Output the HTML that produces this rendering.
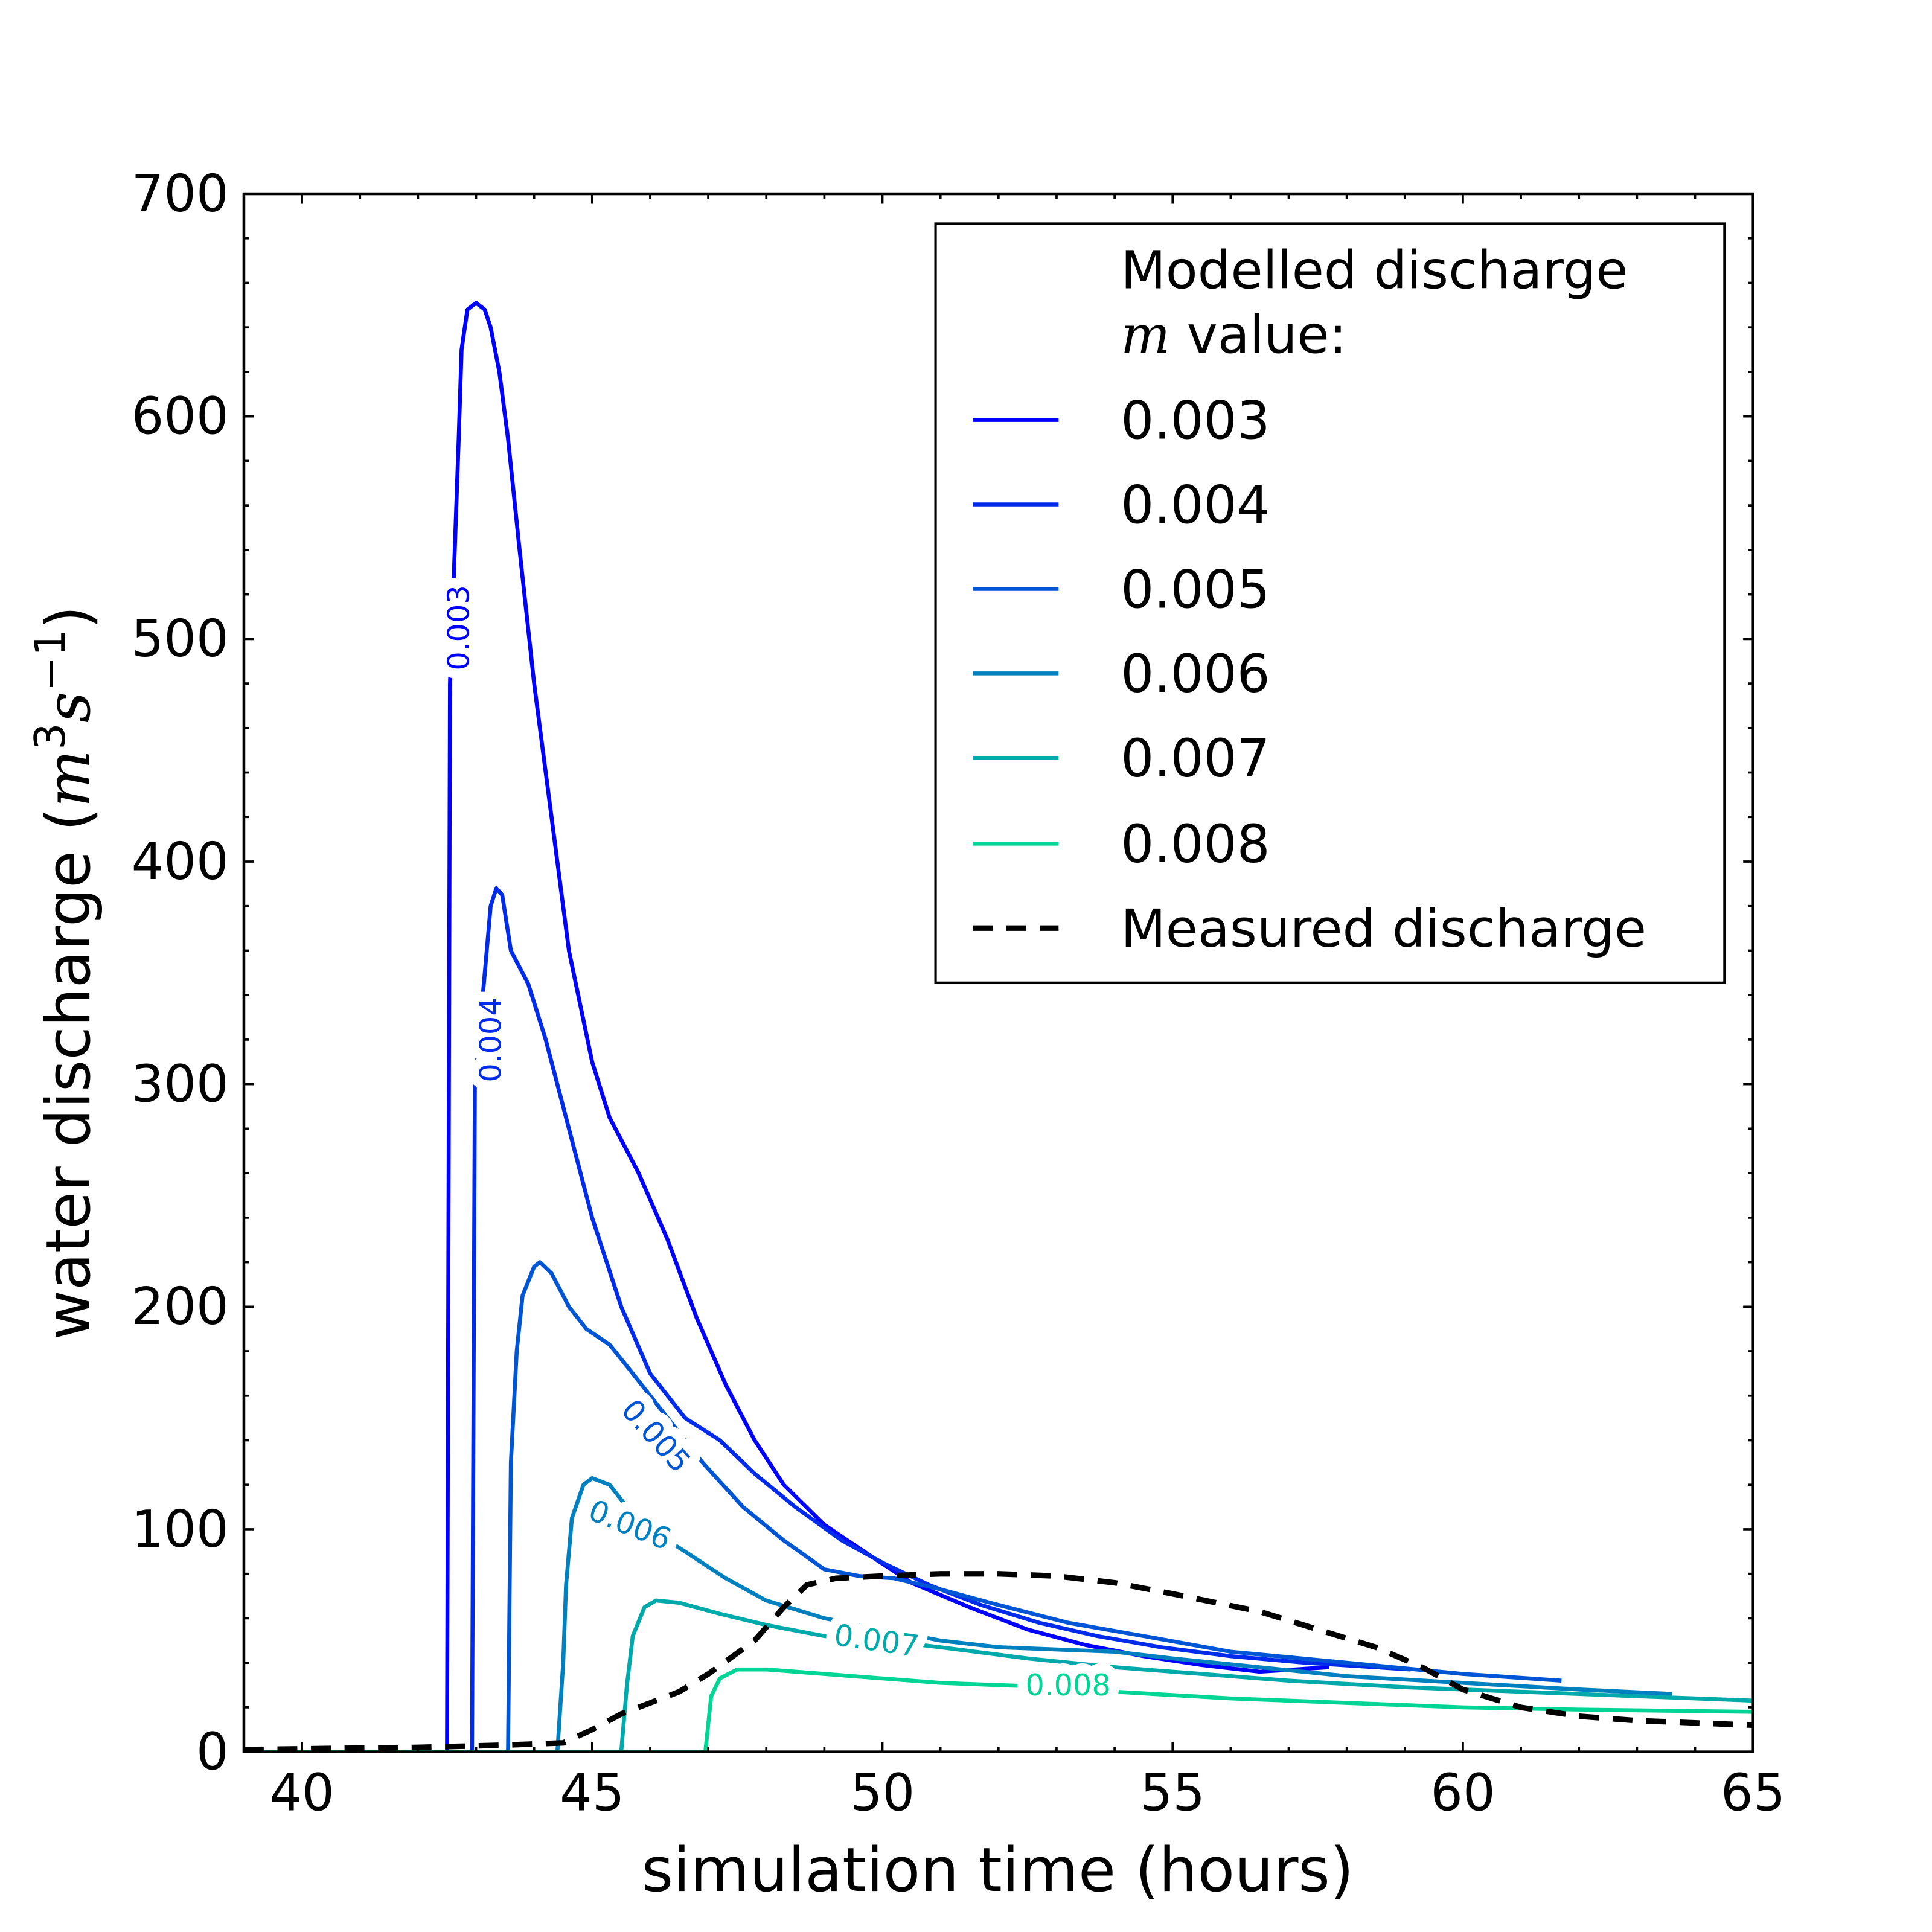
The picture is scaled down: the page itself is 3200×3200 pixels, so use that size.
<!DOCTYPE html>
<html><head><meta charset="utf-8"><style>html,body{margin:0;padding:0;background:#fff}svg{display:block}</style></head>
<body>
<svg id="chart" width="3200" height="3200" viewBox="0 0 1555 1555" xmlns="http://www.w3.org/2000/svg" font-family="'DejaVu Sans','Liberation Sans',sans-serif">
<rect width="1555" height="1555" fill="#fff"/>
<g id="plot"></g>
<g id="axes"></g>
</svg>
<script>
const xTicks=[40,45,50,55,60,65];
const yTicks=[0,100,200,300,400,500,600,700];
const seriesNames=["0.003","0.004","0.005","0.006","0.007","0.008"];
const seriesColors=["rgb(0,0,255)","rgb(0,43,234)","rgb(0,85,213)","rgb(0,128,191)","rgb(0,170,170)","rgb(0,213,149)"];
const s003x=[39,42.5,42.55,42.7,42.75,42.85,43.0,43.15,43.25,43.4,43.55,43.75,44.0,44.3,44.6,45.0,45.3,45.8,46.3,46.8,47.3,47.8,48.3,49.0,49.8,50.5,51.5,52.5,53.5,54.5,55.5,56.5,57.7];
const s003y=[0,0,480,590,630,648,651,648,640,620,590,540,480,420,360,310,285,260,230,195,165,140,120,102,88,76,65,55,48,43,39,36,38];
const s004x=[39,42.93,42.98,43.15,43.25,43.35,43.45,43.6,43.9,44.2,44.6,45.0,45.5,46.0,46.6,47.2,47.8,48.5,49.3,50.0,50.8,51.7,52.7,53.7,54.8,56,57.3,58.5,59.1];
const s004y=[0,0,300,350,380,388,385,360,345,320,280,240,200,170,150,140,125,110,95,85,75,66,58,52,47,43,40,38,37];
const s005x=[39,43.55,43.6,43.7,43.8,44.0,44.1,44.3,44.6,44.9,45.3,45.7,46.3,46.9,47.6,48.3,49.0,49.6,50.2,51.0,52.0,53.2,54.5,56,58,60,61.7];
const s005y=[0,0,130,180,205,218,220,215,200,190,183,170,150,130,110,95,82,79,78,73,66,58,52,45,40,35,32];
const s006x=[39,44.4,44.5,44.55,44.65,44.85,45.0,45.3,45.6,46.0,46.6,47.3,48.0,49.0,50,51,52,53,54,55,56.5,58,60,62,63.6];
const s006y=[0,0,40,75,105,120,123,120,110,100,90,78,68,60,55,50,47,46,45,42,38,34,31,28,26];
const s007x=[39,45.5,45.6,45.7,45.9,46.1,46.5,47.2,48,49,50,51,52.5,54,55.5,57,59,61,63,65];
const s007y=[0,0,30,52,65,68,67,62,57,52,50,47,42,38,35,32,29,27,25,23];
const s008x=[39,46.95,47.05,47.2,47.5,48,49,50,51,52,53,54,56,58,60,62,65];
const s008y=[0,0,25,33,37,37,35,33,31,30,29,27,24,22,20,19,18];
const measX=[39,42,43.5,44.5,45,45.5,46,46.5,47,47.8,48.3,48.7,49.2,50,51,52,53,54,55,56.5,57.5,58.5,59.3,60,61,62,63,64,65];
const measY=[1,2,3,4,10,17,22,27,35,50,65,75,78,79,80,80,79,76,71,63,55,47,38,28,20,16,14,13,12];
const seriesX=[s003x,s004x,s005x,s006x,s007x,s008x];
const seriesY=[s003y,s004y,s005y,s006y,s007y,s008y];

const L=196.3,R=1411,T=156,B=1410,X0=39,X1=65,Y0=0,Y1=700;
const sx=v=>L+(v-X0)/(X1-X0)*(R-L);
const sy=v=>B-(v-Y0)/(Y1-Y0)*(B-T);
const NS="http://www.w3.org/2000/svg";
const plot=document.getElementById('plot'),axes=document.getElementById('axes');
function mk(tag,attrs,parent){const e=document.createElementNS(NS,tag);for(const k in attrs)e.setAttribute(k,attrs[k]);parent.appendChild(e);return e;}
const cp=mk('clipPath',{id:'clip'},plot);mk('rect',{x:L,y:T,width:R-L,height:B-T},cp);
const pg=mk('g',{'clip-path':'url(#clip)'},plot);
function pathD(xs,ys){return xs.map((x,i)=>(i?'L':'M')+sx(x).toFixed(1)+','+sy(ys[i]).toFixed(1)).join(' ');}
for(let i=0;i<seriesX.length;i++){
  const p=mk('path',{d:pathD(seriesX[i],seriesY[i]),fill:'none',stroke:seriesColors[i],'stroke-width':3.2,'stroke-linejoin':'round'},pg);
  
  
}
const mp=mk('path',{d:pathD(measX,measY),fill:'none',stroke:'#000','stroke-width':4.5,'stroke-dasharray':'16,11'},pg);


const labelX=[42.7,43.25,46.1,45.65,49.9,53.2];
const labelY=[505,320,142,102,50,30];
const labelRot=[-90,-90,48,22,8,0];
for(let i=0;i<6;i++){
  const t=mk('text',{x:0,y:0,transform:`translate(${sx(labelX[i])},${sy(labelY[i])}) rotate(${labelRot[i]})`,'text-anchor':'middle','dominant-baseline':'central','font-size':24,fill:seriesColors[i],stroke:'#fff','stroke-width':16,'stroke-linejoin':'round','paint-order':'stroke'},pg);
  t.textContent=seriesNames[i];
  
  
}
const fr=mk('rect',{x:L,y:T,width:R-L,height:B-T,fill:'none',stroke:'#000','stroke-width':2.2},axes);


for(let v=X0;v<=X1;v++){const maj=v%5===0;const len=maj?8:4;const x=sx(v);
  mk('line',{x1:x,y1:B,x2:x,y2:B-len,stroke:'#000','stroke-width':1.8},axes);
  mk('line',{x1:x,y1:T,x2:x,y2:T+len,stroke:'#000','stroke-width':1.8},axes);}
for(let v=0;v<=700;v+=20){const maj=v%100===0;const len=maj?8:4;const y=sy(v);
  mk('line',{x1:L,y1:y,x2:L+len,y2:y,stroke:'#000','stroke-width':1.8},axes);
  mk('line',{x1:R,y1:y,x2:R-len,y2:y,stroke:'#000','stroke-width':1.8},axes);}
xTicks.forEach(v=>{const t=mk('text',{x:sx(v),y:1457,'text-anchor':'middle','font-size':41},axes);t.textContent=v;
  
  });
yTicks.forEach(v=>{const t=mk('text',{x:184,y:sy(v)+14,'text-anchor':'end','font-size':41},axes);t.textContent=v;
  
  });
const xt=mk('text',{x:803,y:1522,'text-anchor':'middle','font-size':49},axes);xt.textContent='simulation time (hours)';


const yt=mk('text',{x:0,y:0,transform:'translate(72,783) rotate(-90)','text-anchor':'middle','font-size':49},axes);
yt.innerHTML='water discharge (<tspan font-family="DejaVu Serif,serif" font-style="italic">m</tspan><tspan font-size="34" dy="-20">3</tspan><tspan dy="20" font-family="DejaVu Serif,serif" font-style="italic">s</tspan><tspan font-size="34" dy="-20">−1</tspan><tspan dy="20">)</tspan>';


const lg=mk('g',{},axes);


mk('rect',{x:753,y:180,width:635,height:611,fill:'#fff',stroke:'#000','stroke-width':2},lg);
const t1=mk('text',{x:902,y:232,'font-size':42},lg);t1.textContent='Modelled discharge';
const t2=mk('text',{x:902,y:284,'font-size':42},lg);t2.innerHTML='<tspan font-family="DejaVu Serif,serif" font-style="italic">m</tspan> value:';
const rowsY=[338,406,474,542,610,679,747];
for(let i=0;i<6;i++){
  mk('line',{x1:783,y1:rowsY[i],x2:852,y2:rowsY[i],stroke:seriesColors[i],'stroke-width':3.2},lg);
  const t=mk('text',{x:902,y:rowsY[i]+15,'font-size':42},lg);t.textContent=seriesNames[i];
  
  
}
mk('line',{x1:783,y1:rowsY[6],x2:852,y2:rowsY[6],stroke:'#000','stroke-width':4.5,'stroke-dasharray':'16,11'},lg);
const tm=mk('text',{x:902,y:rowsY[6]+15,'font-size':42},lg);tm.textContent='Measured discharge';


</script>
</body></html>
